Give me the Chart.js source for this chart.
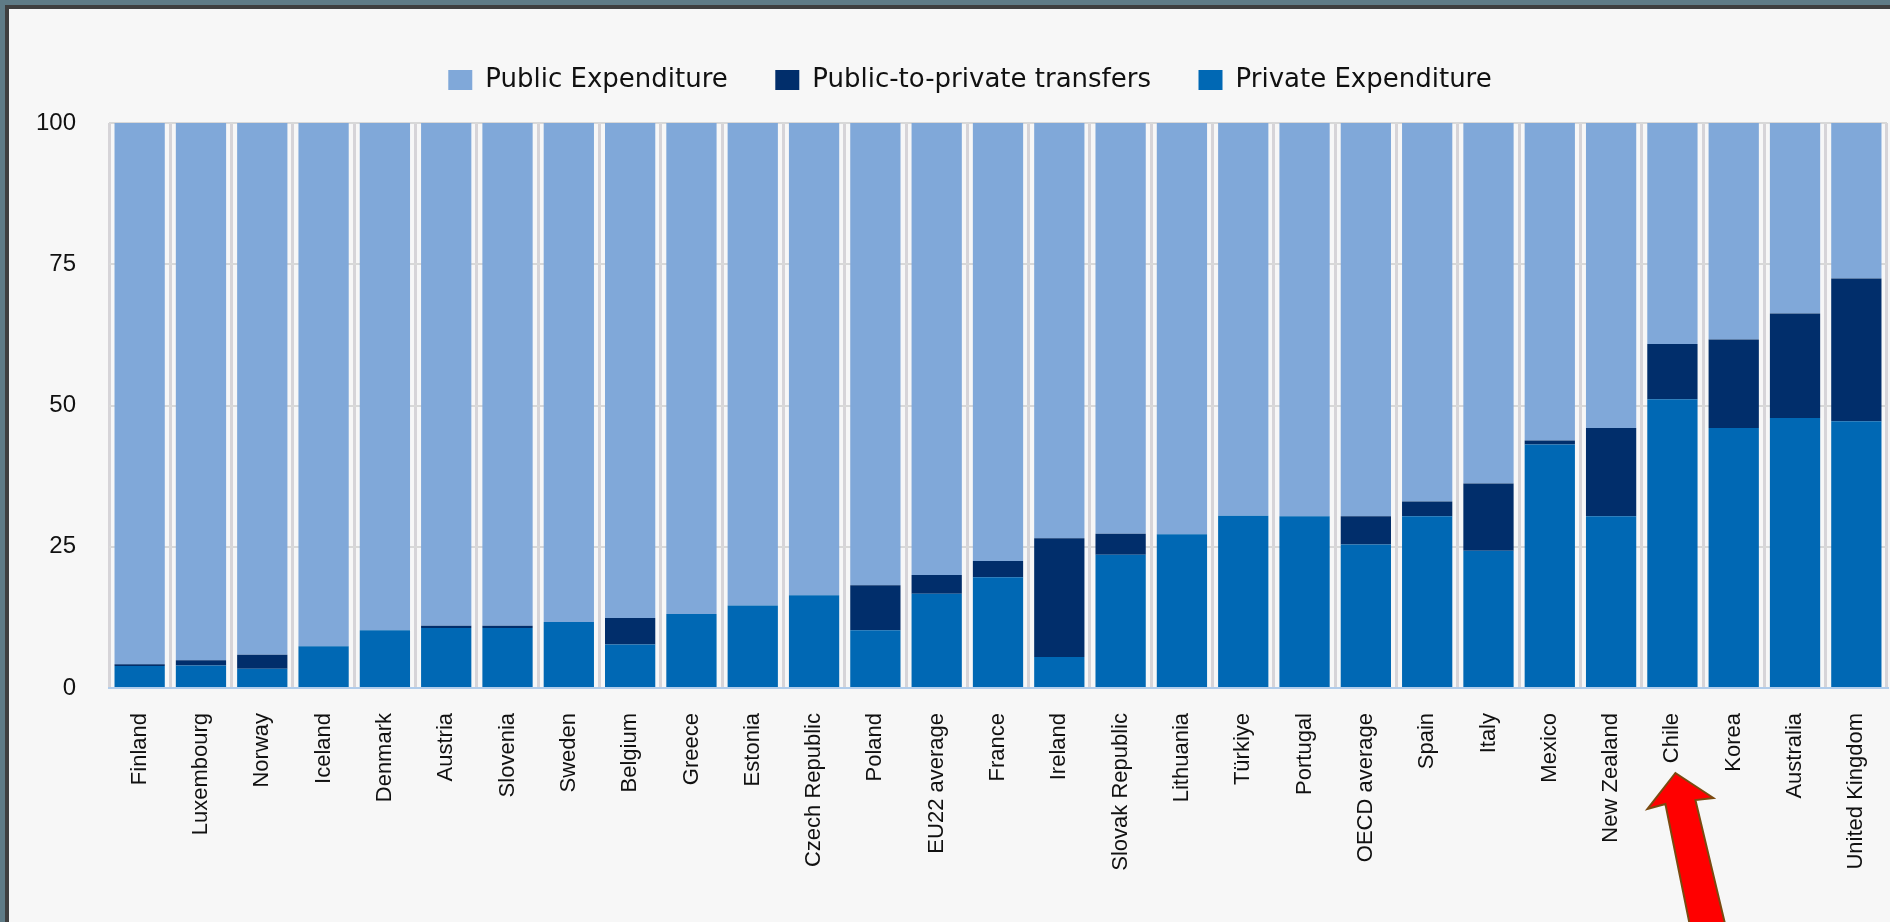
<!DOCTYPE html>
<html>
<head>
<meta charset="utf-8">
<script src="https://cdn.jsdelivr.net/npm/chart.js@4.4.1/dist/chart.umd.min.js"></script>
<style>
  html, body { margin: 0; padding: 0; overflow: hidden; background: #5f7b86; }
  #marco { position: absolute; left: 5px; top: 5px; width: 2000px; height: 1000px;
           border: 4px solid #3f3f3f; background: #f7f7f7; }
  #contenedor { position: absolute; left: 0; top: 0; width: 1890px; height: 922px; }
</style>
</head>
<body>
<div id="marco"></div>
<div id="contenedor"><canvas id="grafica"></canvas></div>
<script>
const PAISES = ["Finland", "Luxembourg", "Norway", "Iceland", "Denmark", "Austria", "Slovenia", "Sweden",
  "Belgium", "Greece", "Estonia", "Czech Republic", "Poland", "EU22 average", "France", "Ireland",
  "Slovak Republic", "Lithuania", "Türkiye", "Portugal", "OECD average", "Spain", "Italy", "Mexico",
  "New Zealand", "Chile", "Korea", "Australia", "United Kingdom"]

const PRIVADO = [3.9, 4.0, 3.4, 7.4, 10.2, 10.6, 10.6, 11.7, 7.7, 13.1, 14.6, 16.4, 10.2, 16.7, 19.6, 5.5,
  23.6, 27.2, 30.5, 30.4, 25.4, 30.4, 24.3, 43.1, 30.4, 51.1, 46.0, 47.8, 47.2]

const TRANSFERENCIAS = [0.3, 0.9, 2.5, 0, 0, 0.4, 0.4, 0, 4.7, 0, 0, 0, 8.0, 3.3, 2.9, 21.0,
  3.7, 0, 0, 0, 5.0, 2.6, 11.9, 0.7, 15.6, 9.8, 15.7, 18.5, 25.3]

const PUBLICO = [95.8, 95.1, 94.1, 92.6, 89.8, 89.0, 89.0, 88.3, 87.6, 86.9, 85.4, 83.6, 81.8, 80.0, 77.5, 73.5,
  72.7, 72.8, 69.5, 69.6, 69.6, 67.0, 63.8, 56.2, 54.0, 39.1, 38.3, 33.7, 27.5]

const TICKS_Y = [0, 25, 50, 75, 100]

// las etiquetas del original se ven estiradas, la version narrow se parece mas si existe
function fuenteDisponible(nombre) {
  const c = document.createElement('canvas').getContext('2d')
  c.font = '40px monospace'
  const base = c.measureText('Luxembourg Kingdom').width
  c.font = '40px "' + nombre + '", monospace'
  return c.measureText('Luxembourg Kingdom').width !== base
}
const fuenteX = fuenteDisponible('Liberation Sans Narrow')
  ? { family: 'Liberation Sans Narrow', size: 26.5 }
  : { family: 'Liberation Sans', size: 22 }

// flecha roja que apunta a Chile
const flecha = {
  id: 'flecha',
  afterDraw(chart) {
    const ctx = chart.ctx
    const x = chart.scales.x.getPixelForValue(PAISES.indexOf("Chile")) + 3
    const y = chart.chartArea.bottom + 85
    ctx.save()
    ctx.beginPath()
    ctx.moveTo(x, y)
    ctx.lineTo(x + 38, y + 25)
    ctx.lineTo(x + 20, y + 27)
    ctx.lineTo(x + 53, y + 165)
    ctx.lineTo(x + 17, y + 165)
    ctx.lineTo(x - 10, y + 31)
    ctx.lineTo(x - 28, y + 36)
    ctx.closePath()
    ctx.fillStyle = '#ff0000'
    ctx.fill()
    ctx.lineWidth = 2
    ctx.strokeStyle = '#7a4a10'
    ctx.stroke()
    ctx.restore()
  }
}

// separa la leyenda del area de la grafica y la centra como en el original
const ajusteLeyenda = {
  id: 'ajusteLeyenda',
  afterInit(chart) {
    const leyenda = chart.legend
    const fit = leyenda.fit
    leyenda.fit = function () {
      fit.call(this)
      this.height += 20
    }
  },
  afterLayout(chart) {
    chart.legend.left += 19
    chart.legend.right += 19
  }
}

const data = {
  labels: PAISES,
  datasets: [
    { label: "Private Expenditure", data: PRIVADO, backgroundColor: '#0068b4' },
    { label: "Public-to-private transfers", data: TRANSFERENCIAS, backgroundColor: '#012e6b' },
    { label: "Public Expenditure", data: PUBLICO, backgroundColor: '#80a8d9' }
  ]
}

const options = {
  responsive: true,
  maintainAspectRatio: false,
  animation: false,
  layout: { padding: { left: 15, right: 3, top: 19.5, bottom: 0 } },
  datasets: { bar: { categoryPercentage: 1, barPercentage: 0.82 } },
  plugins: {
    tooltip: { enabled: false },
    legend: {
      reverse: true,
      labels: {
        boxWidth: 24,
        boxHeight: 20,
        padding: 47.5,
        color: '#111',
        font: { family: 'DejaVu Sans', size: 26 }
      }
    }
  },
  scales: {
    x: {
      stacked: true,
      grid: { color: '#d6d4d8', lineWidth: 3, drawTicks: false, offset: true },
      border: { display: true, color: '#b0cceb', width: 2 },
      ticks: {
        autoSkip: false,
        minRotation: 90,
        maxRotation: 90,
        padding: 25,
        color: '#111',
        font: fuenteX
      },
      afterFit(scale) {
        scale.height = 234
        scale.paddingLeft = 0
        scale.paddingRight = 0
      }
    },
    y: {
      stacked: true,
      min: 0,
      max: 100,
      afterBuildTicks(scale) { scale.ticks = TICKS_Y.map(v => ({ value: v })) },
      grid: { color: '#d8d8d8', lineWidth: 2, drawTicks: false },
      border: { display: false },
      ticks: {
        padding: 33,
        color: '#111',
        font: { family: 'Liberation Sans', size: 24 }
      },
      afterFit(scale) { scale.width = 94 }
    }
  }
}

new Chart(document.getElementById('grafica').getContext('2d'), {
  type: 'bar',
  data: data,
  options: options,
  plugins: [flecha, ajusteLeyenda]
})
</script>
</body>
</html>
